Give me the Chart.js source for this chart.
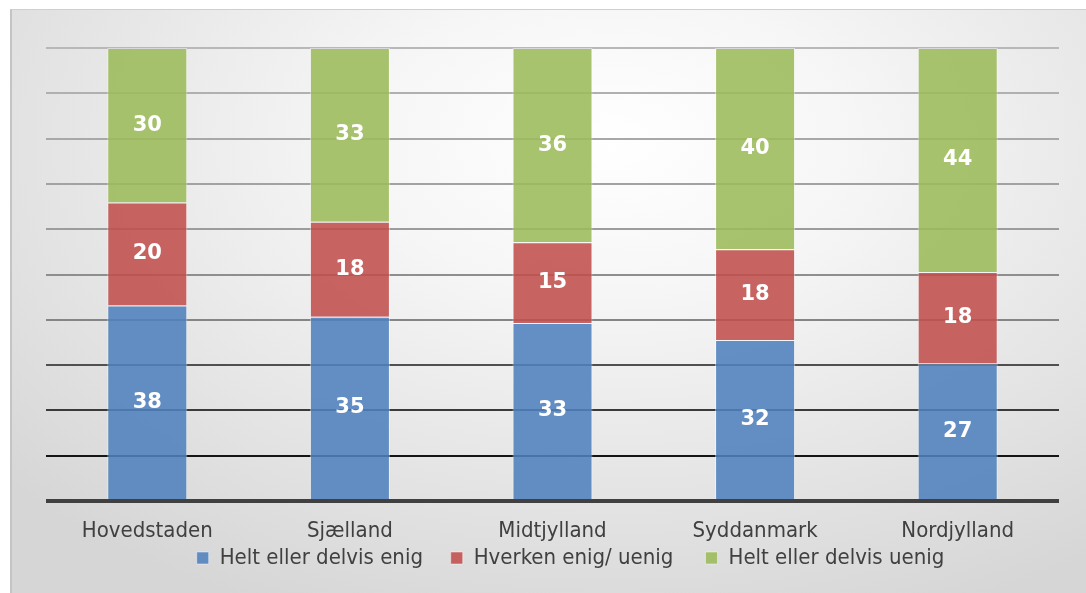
<!DOCTYPE html>
<html>
<head>
<meta charset="utf-8">
<script src="https://cdn.jsdelivr.net/npm/chart.js@4/dist/chart.umd.min.js"></script>
<style>
  html, body { margin:0; padding:0; width:1086px; height:593px; overflow:hidden; background:#fff; }
  #frame { position:absolute; left:10px; top:9px; width:1090px; height:600px;
    border-left:2px solid #c4c4c4; border-top:1px solid #cfcfcf;
    background: radial-gradient(ellipse 75% 85% at 55% 22%, #ffffff 0%, #f6f6f6 30%, #e6e6e6 65%, #d6d6d6 100%); }
  #wrap { position:absolute; left:0; top:0; width:1086px; height:593px; }
</style>
</head>
<body>
<div id="frame"></div>
<div id="wrap"><canvas id="c"></canvas></div>
<script>
const categories = ["Hovedstaden", "Sjælland", "Midtjylland", "Syddanmark", "Nordjylland"];
const seriesNames = ["Helt eller delvis enig", "Hverken enig/ uenig", "Helt eller delvis uenig"];
const enig   = [38, 35, 33, 32, 27];
const hverken = [20, 18, 15, 18, 18];
const uenig  = [30, 33, 36, 40, 44];
const yTicks = [0, 10, 20, 30, 40, 50, 60, 70, 80, 90, 100];

const totals = categories.map((_, i) => enig[i] + hverken[i] + uenig[i]);
const share = arr => arr.map((v, i) => v / totals[i] * 100);

const colors = ["rgba(79,129,189,0.88)", "rgba(192,80,77,0.88)", "rgba(155,187,89,0.88)"];
const raw = [enig, hverken, uenig];

const gridColors = {0:'#404040',10:'#151515',20:'#3a3a3a',30:'#505050',40:'#858585',50:'#8e8e8e',60:'#9c9c9c',70:'#a2a2a2',80:'#a8a8a8',90:'#b0b0b0',100:'#b8b8b8'};

const labelPlugin = {
  id: 'segLabels',
  afterLayout(chart) {
    if (chart.legend) { chart.legend.left += 18; chart.legend.right += 18; }
  },
  afterDatasetsDraw(chart) {
    const ctx = chart.ctx;
    ctx.save();
    ctx.fillStyle = '#ffffff';
    ctx.font = 'bold 21px "DejaVu Sans", sans-serif';
    ctx.textAlign = 'center';
    ctx.textBaseline = 'middle';
    chart.data.datasets.forEach((ds, di) => {
      const meta = chart.getDatasetMeta(di);
      meta.data.forEach((el, i) => {
        const p = el.getProps(['x', 'y', 'base'], true);
        ctx.fillText(String(raw[di][i]), p.x, (p.y + p.base) / 2);
      });
    });
    ctx.restore();
  }
};

const labelFont = '"Liberation Sans Narrow", "DejaVu Sans Condensed", sans-serif';
const legendGaps = ['\u2003\u200a', '\u2003 ', ''];

new Chart(document.getElementById('c'), {
  type: 'bar',
  data: {
    labels: categories,
    datasets: [0,1,2].map(k => ({
      label: seriesNames[k],
      data: share(raw[k]),
      backgroundColor: colors[k],
      borderColor: 'rgba(255,255,255,0.45)',
      borderWidth: 1,
      barPercentage: 0.395,
      categoryPercentage: 1.0
    }))
  },
  options: {
    responsive: true,
    maintainAspectRatio: false,
    animation: false,
    devicePixelRatio: 1,
    layout: { padding: { left: 46, right: 27, top: 48, bottom: 14 } },
    plugins: {
      legend: {
        position: 'bottom',
        labels: {
          boxWidth: 12, boxHeight: 12, padding: 6,
          color: '#404040',
          font: { family: labelFont, size: 22, lineHeight: 1.0 },
          generateLabels: chart => {
            const items = Chart.defaults.plugins.legend.labels.generateLabels(chart);
            items.forEach((it, i) => { it.text = it.text + (legendGaps[i] || ''); });
            return items;
          }
        }
      },
      tooltip: { enabled: false }
    },
    scales: {
      x: {
        stacked: true,
        grid: { display: false, drawTicks: false },
        border: { display: false },
        afterFit: axis => { axis.height = 40; },
        ticks: {
          color: '#404040', padding: 17,
          font: { family: labelFont, size: 22, lineHeight: 1.2 }
        }
      },
      y: {
        stacked: true,
        min: 0, max: 100,
        afterBuildTicks: axis => { axis.ticks = yTicks.map(v => ({ value: v })); },
        ticks: { display: false },
        border: { display: false },
        grid: {
          drawTicks: false,
          color: c => gridColors[c.tick.value] || '#999',
          lineWidth: c => c.tick.value === 0 ? 4 : 2
        }
      }
    }
  },
  plugins: [labelPlugin]
});
</script>
</body>
</html>
